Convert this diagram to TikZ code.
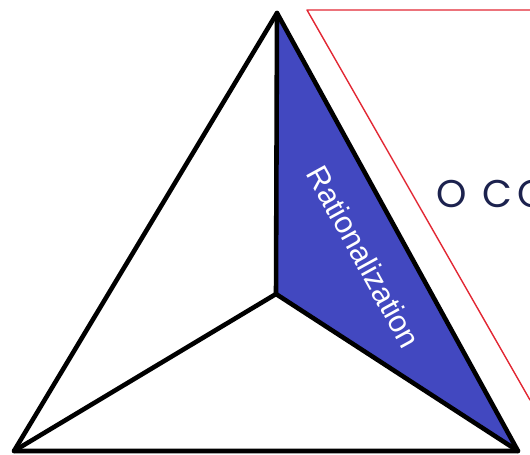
\documentclass[tikz,border=0pt]{standalone}
\usepackage{fontspec}
\setmainfont{Liberation Sans}
\newfontfamily\geofont[LetterSpace=14]{Poppins}
\definecolor{ratblue}{RGB}{66,72,192}
\definecolor{inkblue}{RGB}{28,34,78}
\definecolor{framered}{RGB}{226,40,52}

\begin{document}
\begin{tikzpicture}[x=0.02cm,y=-0.02cm,line cap=round,line join=round]
  \useasboundingbox (0,0) rectangle (530,455);
  \coordinate (top) at (277,13);
  \coordinate (left) at (14,451);
  \coordinate (right) at (518,451);
  \coordinate (mid) at (276,294);
  \fill[ratblue] (top) -- (right) -- (mid) -- cycle;
  \draw[line width=2.6pt] (top) -- (right) -- (left) -- cycle;
  \foreach \c in {top,left,right} {
    \draw[line width=2.6pt] (mid) -- (\c);
  }
  \node[white,font=\fontsize{17.5}{20}\selectfont,rotate=-61.2] (rat) at (364,257) {Rationalization};
  \draw[framered,line width=0.8pt] (530,10) -- (307,10) -- (530,400);
  \node[inkblue,anchor=base west,inner sep=0pt,font=\geofont\fontsize{22}{26}\selectfont] (cap) at (436,208) {O CO};
\end{tikzpicture}
\end{document}
